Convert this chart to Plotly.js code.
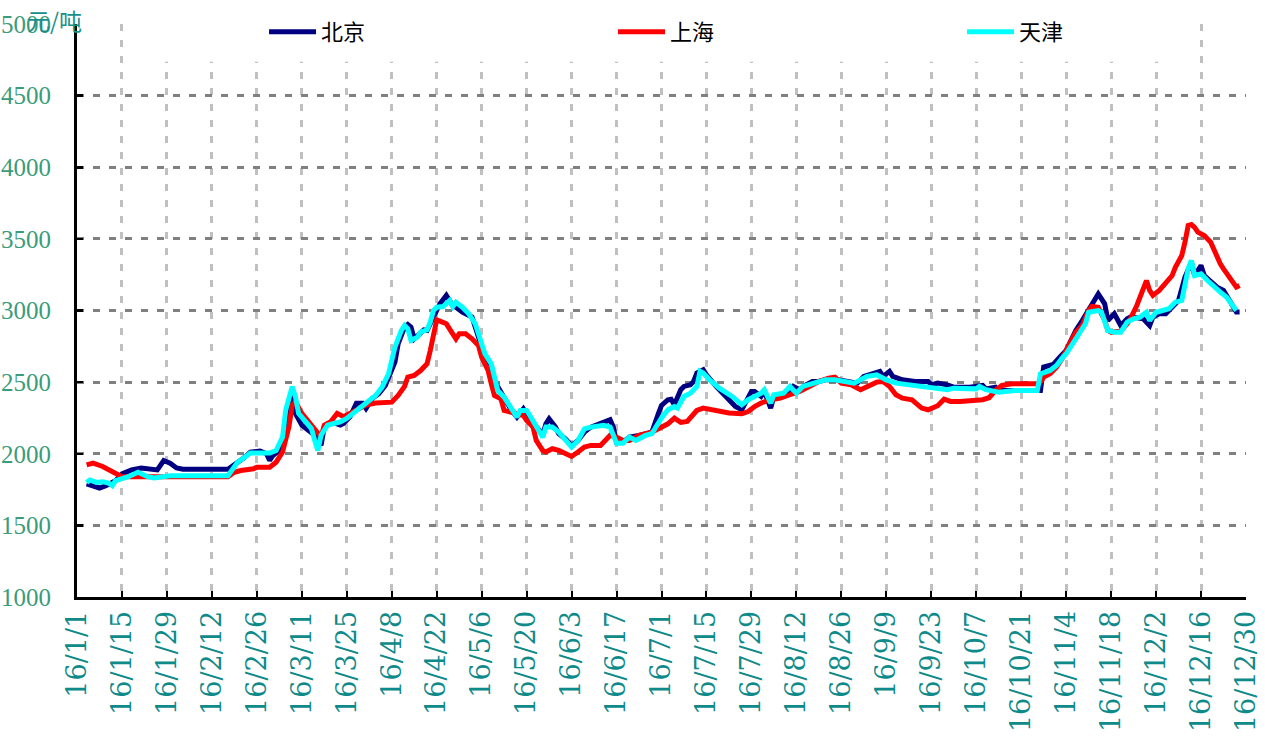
<!DOCTYPE html>
<html>
<head>
<meta charset="utf-8">
<script src="https://cdn.plot.ly/plotly-3.0.1.min.js"></script>
<style>
html,body{margin:0;padding:0;background:#fff;}
#chart{width:1265px;height:738px;}
</style>
</head>
<body>
<div id="chart"></div>
<script>
// 北京
const bjDates = ["2016-01-04","2016-01-06","2016-01-08","2016-01-10","2016-01-13","2016-01-15","2016-01-18","2016-01-21","2016-01-24","2016-01-26","2016-01-28","2016-01-30","2016-02-01","2016-02-03","2016-02-17","2016-02-18","2016-02-20","2016-02-22","2016-02-24","2016-02-27","2016-02-29","2016-03-01","2016-03-02","2016-03-04","2016-03-06","2016-03-07","2016-03-08","2016-03-09","2016-03-11","2016-03-13","2016-03-15","2016-03-17","2016-03-18","2016-03-19","2016-03-21","2016-03-23","2016-03-24","2016-03-26","2016-03-28","2016-03-30","2016-03-31","2016-04-02","2016-04-04","2016-04-06","2016-04-07","2016-04-09","2016-04-10","2016-04-12","2016-04-13","2016-04-14","2016-04-15","2016-04-16","2016-04-18","2016-04-19","2016-04-21","2016-04-22","2016-04-23","2016-04-25","2016-04-27","2016-04-28","2016-04-30","2016-05-03","2016-05-04","2016-05-06","2016-05-07","2016-05-09","2016-05-10","2016-05-11","2016-05-12","2016-05-13","2016-05-15","2016-05-17","2016-05-19","2016-05-20","2016-05-22","2016-05-24","2016-05-25","2016-05-26","2016-05-27","2016-05-29","2016-05-30","2016-06-01","2016-06-03","2016-06-05","2016-06-07","2016-06-09","2016-06-13","2016-06-15","2016-06-16","2016-06-17","2016-06-19","2016-06-21","2016-06-24","2016-06-26","2016-06-28","2016-06-30","2016-07-01","2016-07-03","2016-07-04","2016-07-05","2016-07-07","2016-07-08","2016-07-10","2016-07-11","2016-07-12","2016-07-14","2016-07-15","2016-07-18","2016-07-21","2016-07-24","2016-07-26","2016-07-27","2016-07-29","2016-07-30","2016-08-01","2016-08-02","2016-08-04","2016-08-05","2016-08-07","2016-08-09","2016-08-11","2016-08-13","2016-08-15","2016-08-17","2016-08-19","2016-08-21","2016-08-25","2016-08-28","2016-08-31","2016-09-02","2016-09-05","2016-09-07","2016-09-08","2016-09-10","2016-09-11","2016-09-14","2016-09-18","2016-09-22","2016-09-23","2016-09-25","2016-09-28","2016-09-30","2016-10-05","2016-10-09","2016-10-10","2016-10-13","2016-10-14","2016-10-27","2016-10-28","2016-10-30","2016-10-31","2016-11-02","2016-11-04","2016-11-05","2016-11-07","2016-11-09","2016-11-11","2016-11-13","2016-11-14","2016-11-16","2016-11-17","2016-11-19","2016-11-20","2016-11-21","2016-11-23","2016-11-24","2016-11-26","2016-11-28","2016-11-30","2016-12-01","2016-12-03","2016-12-05","2016-12-07","2016-12-09","2016-12-11","2016-12-13","2016-12-14","2016-12-16","2016-12-17","2016-12-19","2016-12-21","2016-12-23","2016-12-25","2016-12-27","2016-12-28"];
const bjValues = [1789,1775,1761,1777,1812,1859,1887,1901,1894,1887,1953,1934,1901,1892,1892,1906,1941,1972,2012,2019,2000,1953,1988,2023,2164,2352,2411,2282,2200,2164,2129,2059,2188,2211,2216,2200,2211,2258,2352,2352,2317,2387,2419,2477,2535,2640,2768,2884,2902,2884,2802,2826,2865,2861,2954,3012,3047,3105,3035,3023,2989,2954,2884,2756,2675,2616,2512,2470,2430,2384,2314,2256,2314,2279,2209,2163,2128,2209,2244,2186,2140,2105,2058,2093,2151,2186,2221,2237,2186,2081,2081,2116,2128,2140,2151,2279,2337,2377,2381,2342,2447,2470,2481,2505,2563,2586,2551,2470,2400,2330,2307,2354,2435,2435,2400,2435,2319,2400,2412,2423,2470,2447,2481,2505,2505,2516,2516,2505,2493,2540,2563,2575,2540,2575,2540,2516,2505,2505,2481,2493,2481,2465,2465,2477,2453,2465,2442,2442,2605,2623,2623,2674,2721,2767,2860,2930,3000,3070,3116,3047,2930,2977,2942,2895,2942,2954,2949,2942,2895,2954,2977,2977,3023,3070,3233,3337,3244,3314,3244,3198,3163,3140,3058,2989,2989];

// 上海
const shDates = ["2016-01-04","2016-01-06","2016-01-09","2016-01-11","2016-01-13","2016-01-15","2016-01-31","2016-02-17","2016-02-19","2016-02-21","2016-02-25","2016-02-26","2016-03-01","2016-03-03","2016-03-05","2016-03-07","2016-03-08","2016-03-09","2016-03-11","2016-03-13","2016-03-15","2016-03-17","2016-03-18","2016-03-20","2016-03-22","2016-03-24","2016-03-27","2016-03-29","2016-03-31","2016-04-03","2016-04-06","2016-04-08","2016-04-10","2016-04-12","2016-04-13","2016-04-15","2016-04-17","2016-04-19","2016-04-20","2016-04-21","2016-04-22","2016-04-23","2016-04-25","2016-04-27","2016-04-28","2016-04-29","2016-05-01","2016-05-03","2016-05-05","2016-05-06","2016-05-08","2016-05-09","2016-05-10","2016-05-12","2016-05-13","2016-05-15","2016-05-17","2016-05-19","2016-05-20","2016-05-22","2016-05-23","2016-05-25","2016-05-26","2016-05-28","2016-05-30","2016-06-01","2016-06-03","2016-06-05","2016-06-07","2016-06-09","2016-06-12","2016-06-14","2016-06-15","2016-06-17","2016-06-19","2016-06-21","2016-06-24","2016-06-28","2016-07-01","2016-07-03","2016-07-05","2016-07-07","2016-07-09","2016-07-10","2016-07-12","2016-07-14","2016-07-16","2016-07-19","2016-07-22","2016-07-26","2016-07-28","2016-07-30","2016-08-01","2016-08-04","2016-08-07","2016-08-10","2016-08-13","2016-08-16","2016-08-19","2016-08-22","2016-08-24","2016-08-26","2016-08-29","2016-09-01","2016-09-03","2016-09-06","2016-09-08","2016-09-10","2016-09-12","2016-09-14","2016-09-17","2016-09-20","2016-09-22","2016-09-25","2016-09-27","2016-09-29","2016-10-02","2016-10-09","2016-10-11","2016-10-13","2016-10-15","2016-10-18","2016-10-26","2016-10-27","2016-10-28","2016-10-30","2016-11-01","2016-11-03","2016-11-05","2016-11-07","2016-11-09","2016-11-10","2016-11-11","2016-11-12","2016-11-14","2016-11-16","2016-11-17","2016-11-18","2016-11-20","2016-11-21","2016-11-23","2016-11-24","2016-11-26","2016-11-28","2016-11-29","2016-11-30","2016-12-01","2016-12-03","2016-12-05","2016-12-07","2016-12-08","2016-12-10","2016-12-11","2016-12-12","2016-12-13","2016-12-14","2016-12-15","2016-12-17","2016-12-19","2016-12-20","2016-12-22","2016-12-23","2016-12-25","2016-12-27","2016-12-28"];
const shValues = [1922,1934,1911,1887,1855,1840,1840,1840,1871,1883,1895,1906,1906,1941,2012,2188,2340,2364,2282,2223,2176,2117,2200,2223,2282,2258,2293,2317,2340,2354,2357,2360,2407,2470,2535,2547,2581,2628,2721,2837,2935,2926,2907,2837,2802,2837,2837,2802,2756,2675,2581,2488,2407,2384,2302,2291,2279,2267,2233,2186,2093,2023,2012,2035,2023,2000,1981,2012,2047,2058,2058,2105,2128,2116,2093,2093,2128,2151,2185,2209,2249,2219,2226,2249,2302,2319,2312,2295,2284,2279,2295,2330,2354,2377,2388,2412,2435,2470,2505,2528,2535,2493,2481,2447,2470,2500,2505,2470,2412,2388,2377,2319,2307,2335,2381,2365,2365,2377,2391,2442,2477,2488,2488,2500,2535,2558,2605,2674,2767,2849,2895,2960,3000,3028,3023,2930,2860,2849,2849,2856,2907,2942,3035,3151,3209,3140,3105,3140,3186,3244,3302,3384,3477,3593,3600,3580,3547,3523,3477,3419,3326,3291,3233,3163,3174];

// 天津
const tjDates = ["2016-01-04","2016-01-05","2016-01-07","2016-01-09","2016-01-11","2016-01-12","2016-01-13","2016-01-15","2016-01-17","2016-01-20","2016-01-21","2016-01-23","2016-01-25","2016-01-27","2016-01-30","2016-02-17","2016-02-18","2016-02-20","2016-02-22","2016-02-24","2016-03-01","2016-03-03","2016-03-05","2016-03-06","2016-03-08","2016-03-09","2016-03-10","2016-03-12","2016-03-14","2016-03-15","2016-03-16","2016-03-17","2016-03-19","2016-03-21","2016-03-23","2016-03-25","2016-03-27","2016-03-29","2016-04-01","2016-04-03","2016-04-05","2016-04-07","2016-04-09","2016-04-11","2016-04-12","2016-04-13","2016-04-14","2016-04-16","2016-04-17","2016-04-19","2016-04-20","2016-04-21","2016-04-22","2016-04-24","2016-04-26","2016-04-27","2016-04-28","2016-04-30","2016-05-02","2016-05-04","2016-05-06","2016-05-07","2016-05-09","2016-05-10","2016-05-11","2016-05-13","2016-05-15","2016-05-17","2016-05-18","2016-05-20","2016-05-21","2016-05-23","2016-05-25","2016-05-26","2016-05-28","2016-05-30","2016-06-01","2016-06-03","2016-06-05","2016-06-07","2016-06-09","2016-06-13","2016-06-15","2016-06-17","2016-06-19","2016-06-21","2016-06-23","2016-06-26","2016-06-28","2016-06-30","2016-07-01","2016-07-03","2016-07-05","2016-07-06","2016-07-08","2016-07-10","2016-07-12","2016-07-13","2016-07-14","2016-07-16","2016-07-19","2016-07-23","2016-07-26","2016-07-28","2016-07-30","2016-08-01","2016-08-02","2016-08-04","2016-08-05","2016-08-08","2016-08-10","2016-08-12","2016-08-14","2016-08-17","2016-08-21","2016-08-24","2016-08-27","2016-08-30","2016-09-01","2016-09-03","2016-09-06","2016-09-09","2016-09-12","2016-09-17","2016-09-21","2016-09-25","2016-09-28","2016-09-30","2016-10-07","2016-10-08","2016-10-10","2016-10-14","2016-10-19","2016-10-26","2016-10-27","2016-10-30","2016-11-01","2016-11-03","2016-11-04","2016-11-06","2016-11-08","2016-11-10","2016-11-11","2016-11-14","2016-11-15","2016-11-17","2016-11-19","2016-11-21","2016-11-23","2016-11-25","2016-11-27","2016-11-29","2016-11-30","2016-12-02","2016-12-04","2016-12-06","2016-12-08","2016-12-10","2016-12-12","2016-12-13","2016-12-14","2016-12-16","2016-12-18","2016-12-20","2016-12-22","2016-12-24","2016-12-26","2016-12-27"];
const tjValues = [1800,1817,1800,1805,1793,1777,1812,1824,1840,1871,1859,1840,1831,1840,1847,1847,1883,1941,1972,2005,2005,2023,2117,2305,2469,2399,2282,2235,2176,2094,2023,2129,2200,2211,2223,2246,2282,2329,2372,2407,2465,2558,2744,2861,2895,2872,2791,2814,2849,2865,2919,3000,3023,3028,3070,3028,3058,3023,2977,2907,2756,2698,2628,2535,2442,2395,2326,2256,2302,2302,2267,2186,2116,2186,2186,2151,2093,2047,2093,2174,2186,2198,2186,2074,2074,2116,2093,2128,2140,2221,2250,2307,2330,2319,2400,2423,2470,2575,2563,2516,2458,2400,2342,2377,2400,2423,2447,2354,2412,2423,2470,2423,2470,2493,2516,2516,2505,2493,2516,2540,2551,2516,2493,2481,2470,2458,2447,2458,2453,2470,2447,2430,2442,2442,2558,2581,2616,2674,2698,2767,2837,2907,2988,3000,2988,2860,2849,2849,2919,2942,2954,2988,2930,2988,3000,3012,3058,3070,3291,3349,3244,3256,3209,3163,3128,3093,3023,3000];

const seriesNames = ["北京","上海","天津"];
const seriesColors = ["#000080","#ff0000","#00ffff"];
const yTickVals = [1000,1500,2000,2500,3000,3500,4000,4500,5000];
const yUnit = "元/吨";

const traces = [
  {x: bjDates, y: bjValues, name: seriesNames[0], type: "scatter", mode: "lines", line: {color: seriesColors[0], width: 5}},
  {x: shDates, y: shValues, name: seriesNames[1], type: "scatter", mode: "lines", line: {color: seriesColors[1], width: 5}},
  {x: tjDates, y: tjValues, name: seriesNames[2], type: "scatter", mode: "lines", line: {color: seriesColors[2], width: 5}}
];

const layout = {
  width: 1265, height: 738,
  margin: {l: 77, r: 19, t: 24, b: 141, autoexpand: false},
  paper_bgcolor: "#ffffff", plot_bgcolor: "#ffffff",
  showlegend: true,
  legend: {
    orientation: "h", x: 0.160, xanchor: "left", y: 0.986, yanchor: "middle",
    entrywidth: 287, entrywidthmode: "pixels", itemwidth: 47,
    bgcolor: "rgba(0,0,0,0)", borderwidth: 0,
    font: {family: "Noto Sans CJK SC, sans-serif", size: 22, color: "#000000"}
  },
  xaxis: {
    type: "date",
    range: ["2016-01-01", "2016-12-30"],
    tick0: "2016-01-01", dtick: 14 * 86400000, tickmode: "linear",
    tickformat: "%y/%-m/%-d", tickangle: -90,
    tickfont: {family: "DejaVu Serif, serif", size: 27, color: "#0f8a8a"},
    showline: true, linecolor: "#000000", linewidth: 3,
    ticks: "inside", ticklen: 6, tickwidth: 2, tickcolor: "#000000",
    showgrid: true, gridcolor: "#c0c0c0", gridwidth: 3, griddash: "7px,9px",
    zeroline: false, fixedrange: true
  },
  yaxis: {
    range: [1000, 5000], tickmode: "array", tickvals: yTickVals,
    tickfont: {family: "Liberation Serif, serif", size: 25, color: "#3a9c7a"},
    showline: true, linecolor: "#000000", linewidth: 3,
    ticks: "inside", ticklen: 6, tickwidth: 2.5, tickcolor: "#000000",
    ticklabelstandoff: 18,
    showgrid: true, gridcolor: "#808080", gridwidth: 3, griddash: "7px,9px",
    zeroline: false, fixedrange: true
  },
  shapes: [
    {type: "rect", xref: "paper", yref: "paper", x0: 0.0539, x1: 0.958, y0: 0.934, y1: 1.042,
     fillcolor: "#ffffff", line: {width: 0}, layer: "above"}
  ],
  annotations: [
    {text: yUnit, xref: "paper", yref: "paper", x: -0.0445, y: 1.007, xanchor: "left", yanchor: "middle",
     showarrow: false, font: {family: "Noto Sans CJK SC, sans-serif", size: 23, color: "#1a8f8a"}}
  ]
};

Plotly.newPlot("chart", traces, layout, {displayModeBar: false, staticPlot: true});
</script>
</body>
</html>
